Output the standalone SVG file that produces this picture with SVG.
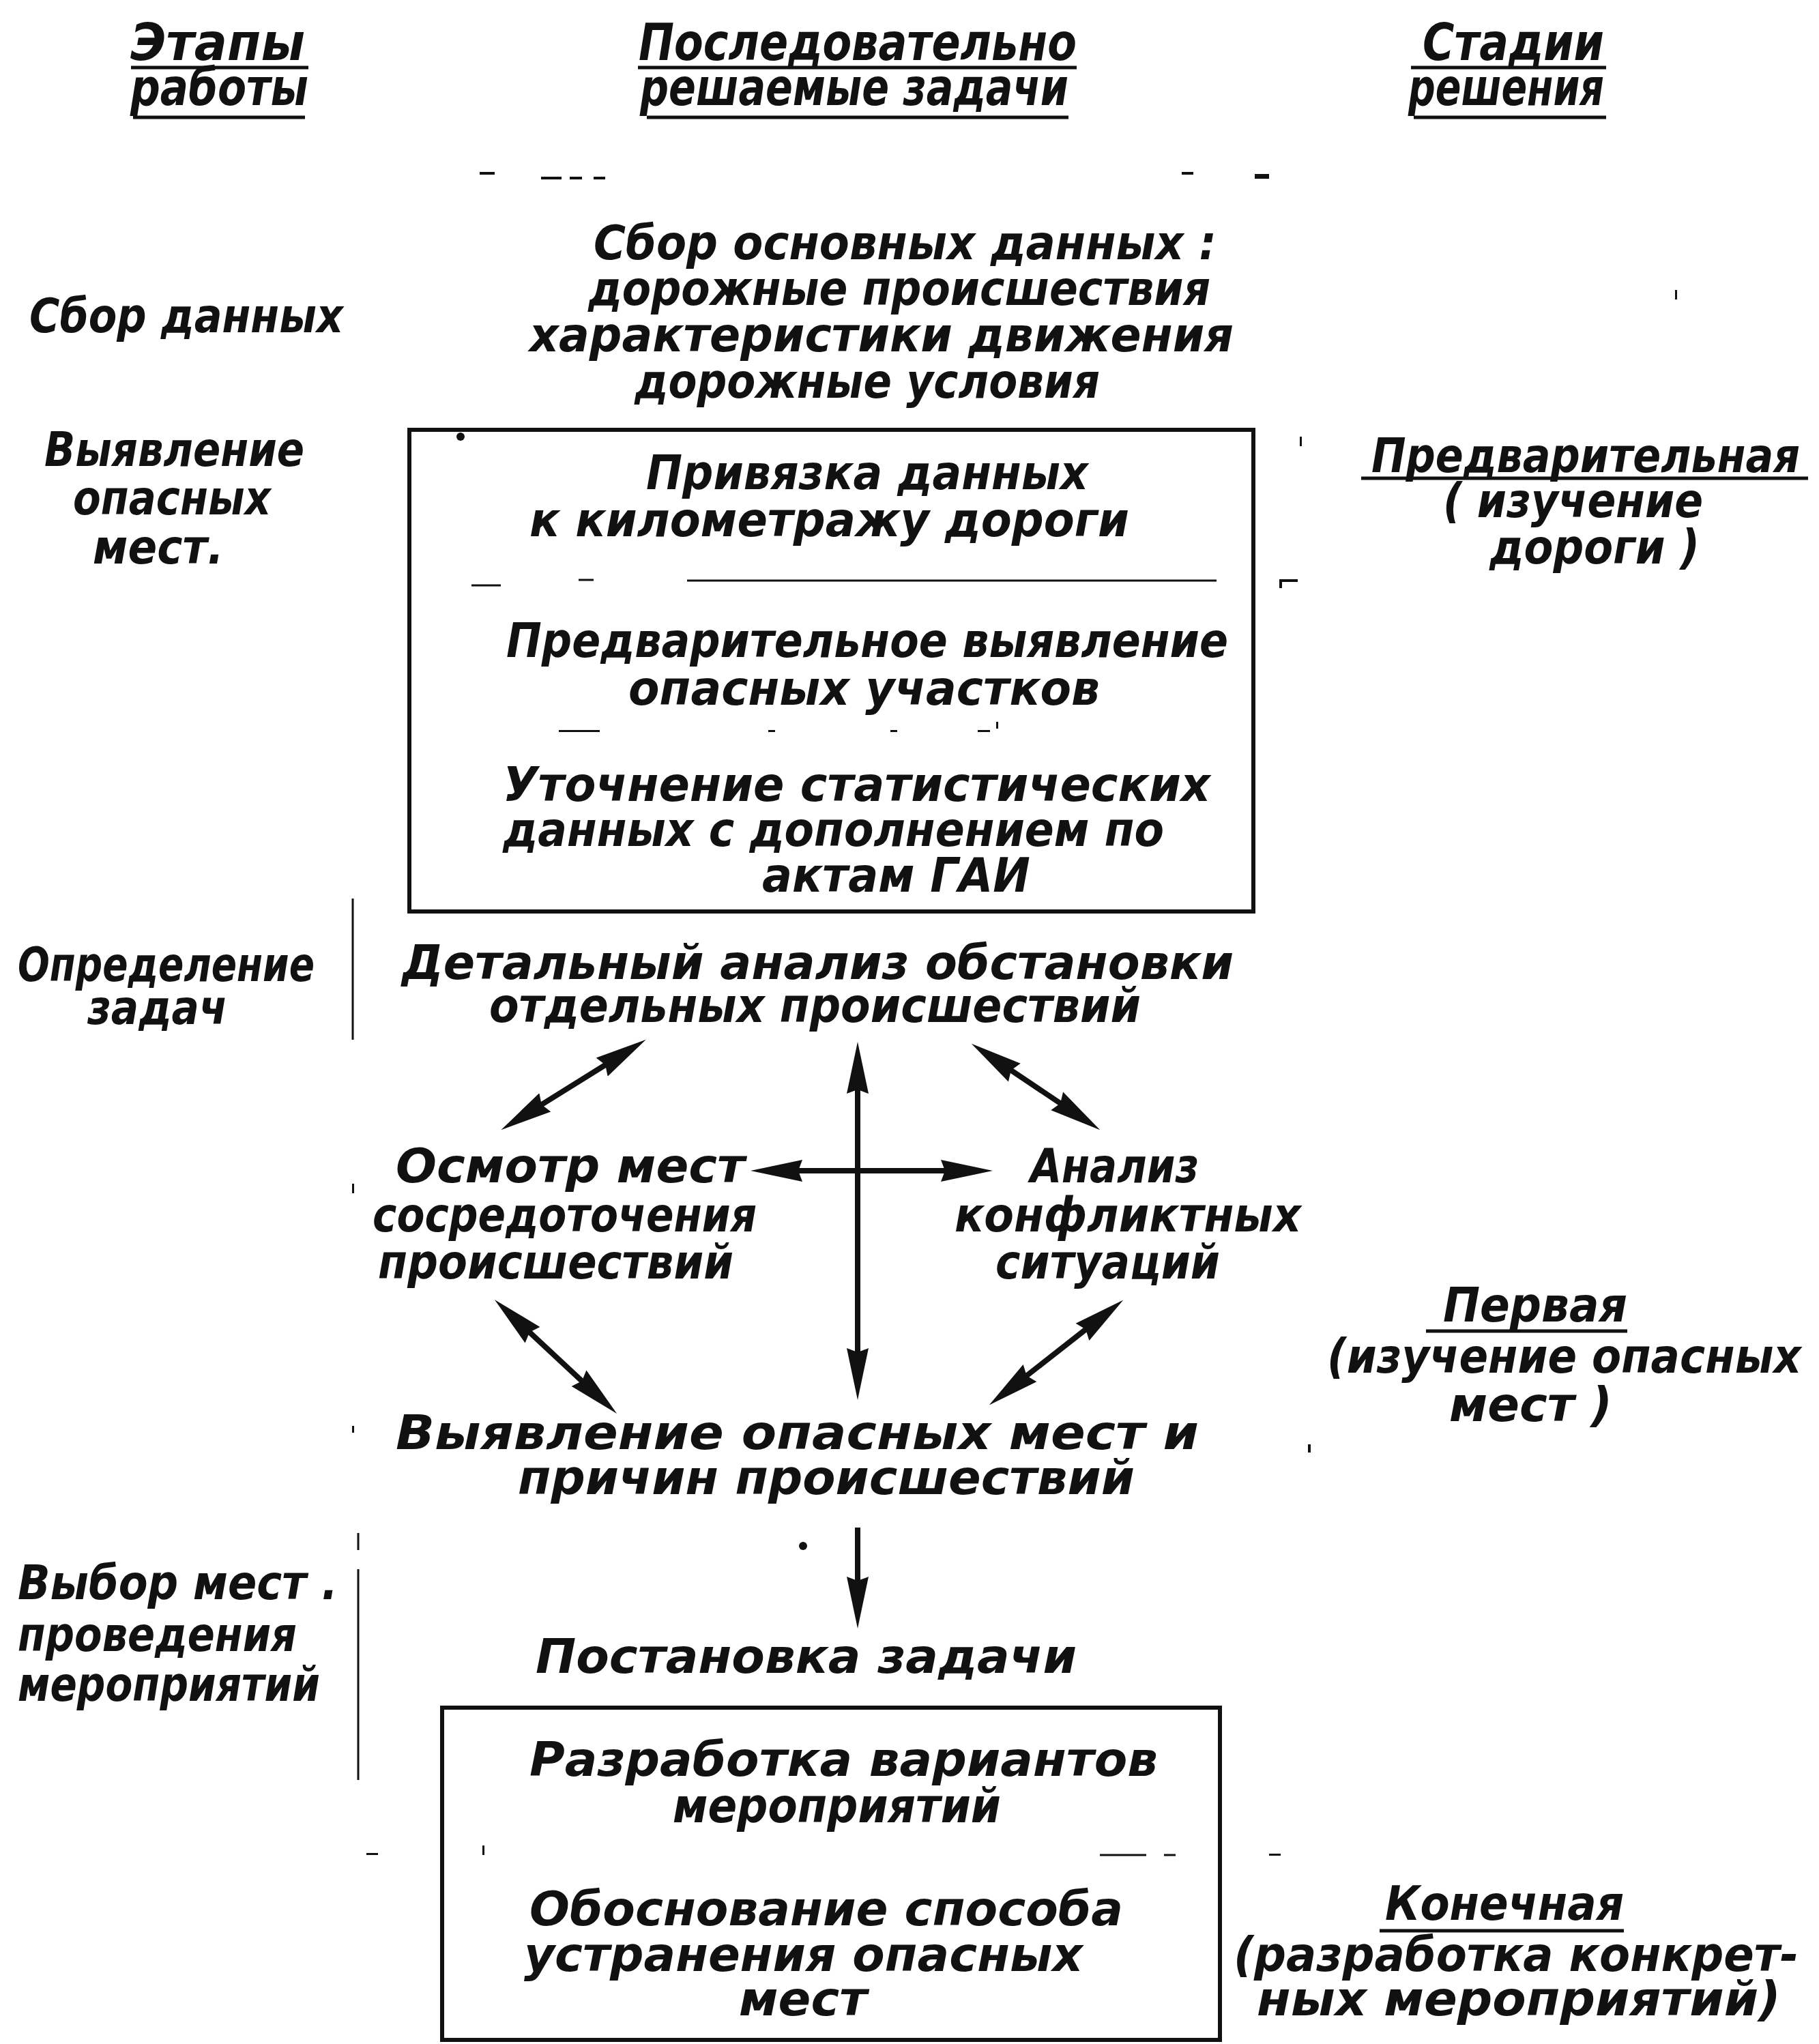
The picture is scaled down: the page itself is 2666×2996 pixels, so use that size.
<svg xmlns="http://www.w3.org/2000/svg" width="2666" height="2996" viewBox="0 0 2666 2996">
  <style>
    .t { font-family: "DejaVu Sans", "Liberation Sans", sans-serif; font-style: italic; font-weight: bold; font-size: 70px; fill: #111; }
    .h { font-size: 74px; }
    .e { text-anchor: end; }
    .box { fill: none; stroke: #111; stroke-width: 6; }
    .ul { stroke: #111; stroke-width: 5; }
    .sep { stroke: #111; stroke-width: 3; }
    .arr { fill: none; stroke: #111; stroke-width: 8; stroke-linecap: butt; }
    .thin { stroke: #111; stroke-width: 3; }
    .mark { fill: #111; }
  </style>
  <defs>
    <marker id="head" viewBox="0 0 76 34" refX="54" refY="17" markerWidth="76" markerHeight="34" markerUnits="userSpaceOnUse" orient="auto-start-reverse">
      <path d="M0,1 L76,17 L0,33 L6,17 Z" fill="#111"/>
    </marker>
  </defs>
  <rect width="2666" height="2996" fill="#fff"/>

  <!-- column headings -->
  <g id="head-stages">
    <text class="t h" x="191" y="88" textLength="256" lengthAdjust="spacingAndGlyphs">Этапы</text>
    <text class="t h" x="191" y="154" textLength="261" lengthAdjust="spacingAndGlyphs">работы</text>
    <line class="ul" x1="192" y1="99" x2="452" y2="99"/>
    <line class="ul" x1="195" y1="172" x2="447" y2="172"/>
  </g>
  <g id="head-tasks">
    <text class="t h" x="936" y="88" textLength="642" lengthAdjust="spacingAndGlyphs">Последовательно</text>
    <text class="t h" x="938" y="154" textLength="628" lengthAdjust="spacingAndGlyphs">решаемые задачи</text>
    <line class="ul" x1="935" y1="99" x2="1578" y2="99"/>
    <line class="ul" x1="948" y1="172" x2="1566" y2="172"/>
  </g>
  <g id="head-phases">
    <text class="t h" x="2085" y="88" textLength="266" lengthAdjust="spacingAndGlyphs">Стадии</text>
    <text class="t h" x="2064" y="154" textLength="287" lengthAdjust="spacingAndGlyphs">решения</text>
    <line class="ul" x1="2068" y1="99" x2="2354" y2="99"/>
    <line class="ul" x1="2072" y1="172" x2="2354" y2="172"/>
  </g>

  <!-- stage labels (left column) -->
  <g id="stage-collect">
    <text class="t" x="43" y="487" textLength="460" lengthAdjust="spacingAndGlyphs">Сбор данных</text>
  </g>
  <g id="stage-detect">
    <text class="t" x="65" y="683" textLength="381" lengthAdjust="spacingAndGlyphs">Выявление</text>
    <text class="t" x="107" y="754" textLength="290" lengthAdjust="spacingAndGlyphs">опасных</text>
    <text class="t" x="136" y="826" textLength="192" lengthAdjust="spacingAndGlyphs">мест.</text>
  </g>
  <g id="stage-define">
    <text class="t" x="26" y="1438" textLength="435" lengthAdjust="spacingAndGlyphs">Определение</text>
    <text class="t" x="128" y="1501" textLength="205" lengthAdjust="spacingAndGlyphs">задач</text>
    <line class="thin" x1="517" y1="1317" x2="517" y2="1524"/>
  </g>
  <g id="stage-select">
    <text class="t" x="26" y="2344" textLength="469" lengthAdjust="spacingAndGlyphs">Выбор мест .</text>
    <text class="t" x="26" y="2420" textLength="409" lengthAdjust="spacingAndGlyphs">проведения</text>
    <text class="t" x="26" y="2493" textLength="443" lengthAdjust="spacingAndGlyphs">мероприятий</text>
    <line class="thin" x1="525" y1="2247" x2="525" y2="2272"/>
    <line class="thin" x1="525" y1="2300" x2="525" y2="2609"/>
  </g>

  <!-- task column -->
  <g id="task-collect">
    <text class="t" x="870" y="380" textLength="913" lengthAdjust="spacingAndGlyphs">Сбор основных данных :</text>
    <text class="t" x="862" y="447" textLength="912" lengthAdjust="spacingAndGlyphs">дорожные происшествия</text>
    <text class="t" x="776" y="515" textLength="1032" lengthAdjust="spacingAndGlyphs">характеристики движения</text>
    <text class="t" x="930" y="583" textLength="682" lengthAdjust="spacingAndGlyphs">дорожные условия</text>
  </g>

  <g id="box-preliminary">
    <rect class="box" x="600" y="630" width="1237" height="706"/>
    <text class="t" x="947" y="717" textLength="648" lengthAdjust="spacingAndGlyphs">Привязка данных</text>
    <text class="t" x="776" y="786" textLength="879" lengthAdjust="spacingAndGlyphs">к километражу дороги</text>
    <line class="sep" x1="1007" y1="851" x2="1783" y2="851"/>
    <line class="sep" x1="691" y1="858" x2="734" y2="858"/>
    <line class="sep" x1="848" y1="850" x2="870" y2="850"/>
    <text class="t" x="742" y="963" textLength="1058" lengthAdjust="spacingAndGlyphs">Предварительное выявление</text>
    <text class="t" x="921" y="1033" textLength="691" lengthAdjust="spacingAndGlyphs">опасных участков</text>
    <text class="t" x="737" y="1174" textLength="1037" lengthAdjust="spacingAndGlyphs">Уточнение статистических</text>
    <text class="t" x="737" y="1240" textLength="969" lengthAdjust="spacingAndGlyphs">данных с дополнением по</text>
    <text class="t" x="1117" y="1307" textLength="393" lengthAdjust="spacingAndGlyphs">актам ГАИ</text>
  </g>

  <g id="task-analysis">
    <text class="t" x="589" y="1435" textLength="1219" lengthAdjust="spacingAndGlyphs">Детальный анализ обстановки</text>
    <text class="t" x="717" y="1498" textLength="955" lengthAdjust="spacingAndGlyphs">отдельных происшествий</text>
  </g>
  <g id="task-inspect">
    <text class="t" x="580" y="1733" textLength="512" lengthAdjust="spacingAndGlyphs">Осмотр мест</text>
    <text class="t" x="546" y="1805" textLength="563" lengthAdjust="spacingAndGlyphs">сосредоточения</text>
    <text class="t" x="554" y="1874" textLength="521" lengthAdjust="spacingAndGlyphs">происшествий</text>
  </g>
  <g id="task-conflicts">
    <text class="t" x="1510" y="1733" textLength="247" lengthAdjust="spacingAndGlyphs">Анализ</text>
    <text class="t" x="1399" y="1805" textLength="508" lengthAdjust="spacingAndGlyphs">конфликтных</text>
    <text class="t" x="1459" y="1874" textLength="329" lengthAdjust="spacingAndGlyphs">ситуаций</text>
  </g>
  <g id="task-identify">
    <text class="t" x="580" y="2124" textLength="1177" lengthAdjust="spacingAndGlyphs">Выявление опасных мест и</text>
    <text class="t" x="759" y="2190" textLength="904" lengthAdjust="spacingAndGlyphs">причин происшествий</text>
  </g>
  <g id="task-statement">
    <text class="t" x="785" y="2452" textLength="793" lengthAdjust="spacingAndGlyphs">Постановка задачи</text>
  </g>

  <g id="box-final">
    <rect class="box" x="648" y="2503" width="1140" height="487"/>
    <text class="t" x="776" y="2603" textLength="921" lengthAdjust="spacingAndGlyphs">Разработка вариантов</text>
    <text class="t" x="986" y="2671" textLength="481" lengthAdjust="spacingAndGlyphs">мероприятий</text>
    <line class="sep" x1="1612" y1="2719" x2="1680" y2="2719"/>
    <line class="sep" x1="1706" y1="2719" x2="1723" y2="2719"/>
    <text class="t" x="776" y="2822" textLength="870" lengthAdjust="spacingAndGlyphs">Обоснование способа</text>
    <text class="t" x="768" y="2889" textLength="819" lengthAdjust="spacingAndGlyphs">устранения опасных</text>
    <text class="t" x="1083" y="2954" textLength="188" lengthAdjust="spacingAndGlyphs">мест</text>
  </g>

  <!-- phase labels (right column), long lines anchored at their right end -->
  <g id="phase-preliminary">
    <text class="t e" x="2638" y="692" textLength="628" lengthAdjust="spacingAndGlyphs">Предварительная</text>
    <line class="ul" x1="1995" y1="701" x2="2650" y2="701"/>
    <text class="t" x="2115" y="758" textLength="381" lengthAdjust="spacingAndGlyphs">( изучение</text>
    <text class="t" x="2183" y="826" textLength="308" lengthAdjust="spacingAndGlyphs">дороги )</text>
  </g>
  <g id="phase-first">
    <text class="t" x="2115" y="1937" textLength="270" lengthAdjust="spacingAndGlyphs">Первая</text>
    <line class="ul" x1="2090" y1="1951" x2="2385" y2="1951"/>
    <text class="t e" x="2640" y="2012" textLength="695" lengthAdjust="spacingAndGlyphs">(изучение опасных</text>
    <text class="t" x="2124" y="2083" textLength="239" lengthAdjust="spacingAndGlyphs">мест )</text>
  </g>
  <g id="phase-final">
    <text class="t" x="2030" y="2814" textLength="350" lengthAdjust="spacingAndGlyphs">Конечная</text>
    <line class="ul" x1="2022" y1="2830" x2="2380" y2="2830"/>
    <text class="t e" x="2636" y="2889" textLength="828" lengthAdjust="spacingAndGlyphs">(разработка конкрет-</text>
    <text class="t e" x="2610" y="2954" textLength="768" lengthAdjust="spacingAndGlyphs">ных мероприятий)</text>
  </g>

  <!-- connectors -->
  <g id="connectors">
    <line class="arr" x1="928" y1="1535.5" x2="753" y2="1644.5" marker-start="url(#head)" marker-end="url(#head)"/>
    <line class="arr" x1="1257" y1="1549" x2="1257" y2="2030" marker-start="url(#head)" marker-end="url(#head)"/>
    <line class="arr" x1="1442" y1="1542" x2="1594" y2="1644" marker-start="url(#head)" marker-end="url(#head)"/>
    <line class="arr" x1="1122" y1="1716" x2="1433" y2="1716" stroke-width="6" marker-start="url(#head)" marker-end="url(#head)"/>
    <line class="arr" x1="741" y1="1920" x2="888" y2="2057" marker-start="url(#head)" marker-end="url(#head)"/>
    <line class="arr" x1="1629" y1="1919" x2="1467" y2="2046" marker-start="url(#head)" marker-end="url(#head)"/>
    <line class="arr" x1="1257" y1="2239" x2="1257" y2="2365" marker-end="url(#head)"/>
  </g>

  <!-- stray print marks -->
  <g id="specks">
    <rect class="mark" x="703" y="252" width="22" height="4"/>
    <rect class="mark" x="793" y="259" width="30" height="4"/>
    <rect class="mark" x="835" y="259" width="18" height="4"/>
    <rect class="mark" x="870" y="259" width="17" height="4"/>
    <rect class="mark" x="1732" y="252" width="17" height="4"/>
    <rect class="mark" x="1839" y="255" width="21" height="7"/>
    <rect class="mark" x="2455" y="425" width="3" height="14"/>
    <circle class="mark" cx="675" cy="640" r="6"/>
    <path d="M1877,862 V851 H1902" fill="none" stroke="#111" stroke-width="4"/>
    <rect class="mark" x="1905" y="640" width="3" height="14"/>
    <rect class="mark" x="819" y="1070" width="60" height="3"/>
    <rect class="mark" x="1126" y="1070" width="10" height="3"/>
    <rect class="mark" x="1305" y="1070" width="10" height="3"/>
    <rect class="mark" x="1433" y="1070" width="18" height="3"/>
    <rect class="mark" x="1460" y="1058" width="3" height="10"/>
    <rect class="mark" x="516" y="1735" width="3" height="14"/>
    <rect class="mark" x="516" y="2090" width="3" height="10"/>
    <rect class="mark" x="1917" y="2117" width="4" height="12"/>
    <circle class="mark" cx="1177" cy="2266" r="6"/>
    <rect class="mark" x="537" y="2716" width="17" height="3"/>
    <rect class="mark" x="707" y="2705" width="3" height="14"/>
    <rect class="mark" x="1860" y="2717" width="17" height="3"/>
  </g>
</svg>
